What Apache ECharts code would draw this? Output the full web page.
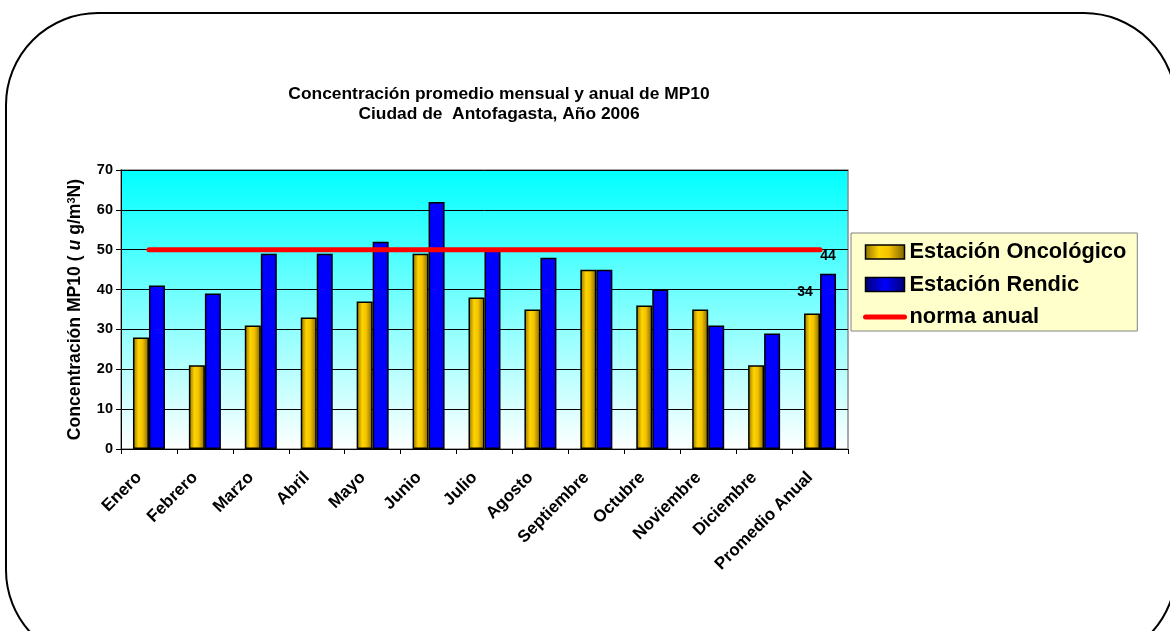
<!DOCTYPE html>
<html>
<head>
<meta charset="utf-8">
<script src="https://cdn.jsdelivr.net/npm/echarts@6/dist/echarts.min.js"></script>
<style>
  html, body { margin: 0; padding: 0; background: #ffffff; }
  #chart { width: 1170px; height: 631px; }
</style>
</head>
<body>
<div id="chart"></div>
<script>
// Monthly and annual average PM10 concentration, Antofagasta 2006
const categories = ['Enero', 'Febrero', 'Marzo', 'Abril', 'Mayo', 'Junio', 'Julio',
  'Agosto', 'Septiembre', 'Octubre', 'Noviembre', 'Diciembre', 'Promedio Anual'];
const oncologico = [28, 21, 31, 33, 37, 49, 38, 35, 45, 36, 35, 21, 34];
const rendic = [41, 39, 49, 49, 52, 62, 50, 48, 45, 40, 31, 29, 44];
const normaAnual = [50, 50, 50, 50, 50, 50, 50, 50, 50, 50, 50, 50, 50];
const yTicks = { min: 0, max: 70, interval: 10 };

const FONT = 'Liberation Sans, Arial, sans-serif';

const goldFill = {
  type: 'linear', x: 0, y: 0, x2: 1, y2: 0,
  colorStops: [
    { offset: 0, color: '#8c6f00' },
    { offset: 0.35, color: '#ffd400' },
    { offset: 0.6, color: '#f2c200' },
    { offset: 1, color: '#7d6200' }
  ]
};
const blueIcon = {
  type: 'linear', x: 0, y: 0, x2: 1, y2: 0,
  colorStops: [
    { offset: 0, color: '#000070' },
    { offset: 0.5, color: '#0000ff' },
    { offset: 1, color: '#000070' }
  ]
};

// Only the annual average bars carry a value label
function withLastLabel(values, offset) {
  return values.map((v, i) => i === values.length - 1
    ? { value: v, label: { show: true, position: 'top', offset: offset,
        color: '#000', fontFamily: FONT, fontWeight: 'bold', fontSize: 14 } }
    : v);
}

const chart = echarts.init(document.getElementById('chart'), null, { renderer: 'canvas' });

chart.setOption({
  animation: false,
  backgroundColor: '#ffffff',
  graphic: [{
    type: 'rect',
    z: -10,
    shape: { x: 6, y: 13, width: 1170, height: 649, r: 92 },
    style: { fill: 'none', stroke: '#000', lineWidth: 2 }
  }],
  title: {
    text: 'Concentración promedio mensual y anual de MP10\nCiudad de  Antofagasta, Año 2006',
    left: 494,
    top: 79,
    textAlign: 'center',
    textStyle: {
      fontFamily: FONT, fontWeight: 'bold', fontSize: 17.4, lineHeight: 20, color: '#000'
    }
  },
  legend: {
    orient: 'vertical',
    left: 851,
    top: 233,
    backgroundColor: '#ffffcc',
    borderColor: '#808080',
    borderWidth: 1,
    padding: [8, 11, 3, 12],
    itemGap: 10.5,
    itemWidth: 39,
    itemHeight: 14,
    textStyle: { fontFamily: FONT, fontWeight: 'bold', fontSize: 21.8, color: '#000' },
    data: [
      { name: 'Estación Oncológico', icon: 'rect',
        itemStyle: { color: goldFill, borderColor: '#000', borderWidth: 1.5 } },
      { name: 'Estación Rendic', icon: 'rect',
        itemStyle: { color: blueIcon, borderColor: '#000', borderWidth: 1.5 } },
      { name: 'norma anual',
        lineStyle: { color: '#ff0000', width: 5, cap: 'round' } }
    ]
  },
  grid: {
    left: 121, right: 322, top: 170, bottom: 182,
    show: true,
    backgroundColor: {
      type: 'linear', x: 0, y: 0, x2: 0, y2: 1,
      colorStops: [
        { offset: 0, color: '#00ffff' },
        { offset: 1, color: '#ffffff' }
      ]
    },
    borderColor: '#8c8c8c',
    borderWidth: 1.5
  },
  xAxis: {
    type: 'category',
    data: categories,
    boundaryGap: true,
    axisLine: { lineStyle: { color: '#000', width: 1 } },
    axisTick: { show: true, alignWithLabel: false, length: 5, lineStyle: { color: '#000' } },
    axisLabel: {
      rotate: 45,
      interval: 0,
      margin: 16,
      padding: [0, 14, 0, 0],
      color: '#000',
      fontFamily: FONT,
      fontWeight: 'bold',
      fontSize: 17
    }
  },
  yAxis: {
    type: 'value',
    min: yTicks.min,
    max: yTicks.max,
    interval: yTicks.interval,
    name: 'Concentración MP10 ( {i|u} g/m{sup|3}N)',
    nameLocation: 'middle',
    nameRotate: 90,
    nameGap: 36,
    nameTextStyle: {
      color: '#000', fontFamily: FONT, fontWeight: 'bold', fontSize: 17.6,
      rich: {
        i: { fontFamily: FONT, fontWeight: 'bold', fontStyle: 'italic', fontSize: 17.6, color: '#000' },
        sup: { fontFamily: FONT, fontWeight: 'bold', fontSize: 11, color: '#000', verticalAlign: 'top', padding: [0, 0, 8, 0] }
      }
    },
    axisLine: { show: true, lineStyle: { color: '#000', width: 1 } },
    axisTick: { show: true, length: 5, lineStyle: { color: '#000' } },
    axisLabel: {
      margin: 8, color: '#000', fontFamily: FONT, fontWeight: 'bold', fontSize: 14.5
    },
    splitLine: { show: true, lineStyle: { color: '#000', width: 1 } }
  },
  series: [
    {
      name: 'Estación Oncológico',
      type: 'bar',
      barWidth: 16,
      barGap: '0%',
      data: withLastLabel(oncologico, [-7, -9]),
      itemStyle: { color: goldFill, borderColor: '#000', borderWidth: 1.5 }
    },
    {
      name: 'Estación Rendic',
      type: 'bar',
      barWidth: 16,
      barGap: '0%',
      data: withLastLabel(rendic, [0, -5]),
      itemStyle: { color: '#0000ff', borderColor: '#000', borderWidth: 1.5 }
    },
    {
      // plain line, no point markers (also in the legend swatch)
      name: 'norma anual',
      type: 'line',
      data: normaAnual,
      symbol: 'none',
      z: 5,
      lineStyle: { color: '#ff0000', width: 5, cap: 'round' },
      itemStyle: { color: '#ff0000', opacity: 0 }
    }
  ]
});
</script>
</body>
</html>
